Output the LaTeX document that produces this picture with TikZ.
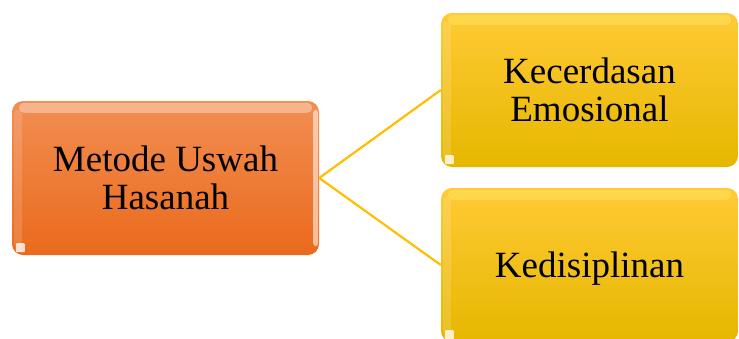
\documentclass[tikz,border=0pt]{standalone}
\usepackage{fontspec}
\setmainfont{Liberation Serif}
\usetikzlibrary{fadings}
\definecolor{orTop}{HTML}{F28E52}
\definecolor{orBot}{HTML}{EA6A1C}
\definecolor{yeTop}{HTML}{FFCA35}
\definecolor{yeBot}{HTML}{E6B700}
\definecolor{linkcol}{HTML}{FFBF00}
\definecolor{rimYellow}{HTML}{FFF27A}

\tikzset{
  box/.style={rounded corners=11pt, inner sep=0pt, align=center,
    minimum height=154pt, font=\fontsize{37}{38}\selectfont},
  orangebox/.style={box, minimum width=307pt, top color=orTop, bottom color=orBot},
  goldbox/.style={box, minimum width=297pt, top color=yeTop, bottom color=yeBot},
  linkline/.style={draw=linkcol, line width=2.2pt},
  shine/.style={fill=white, draw=none},
}

% glossy highlights on a box: top band, left band, right rim and corner spot
\newcommand{\gloss}[3]{%
  \fill[fill=#3, opacity=0.35, rounded corners=5pt]
    ([xshift=7pt,yshift=-2pt]#1.north west) rectangle ([xshift=-7pt,yshift=-12pt]#1.north east);
  \fill[shine, opacity=0.14, rounded corners=4pt]
    ([xshift=2pt,yshift=-9pt]#1.north west) rectangle ([xshift=10pt,yshift=9pt]#1.south west);
  \fill[shine, opacity=0.8, rounded corners=1pt]
    ([xshift=4pt,yshift=3pt]#1.south west) rectangle ([xshift=13pt,yshift=12pt]#1.south west);
  \ifx#2r
  \fill[shine, opacity=0.55, rounded corners=3pt]
    ([xshift=-6pt,yshift=-9pt]#1.north east) rectangle ([xshift=-1pt,yshift=9pt]#1.south east);
  \fi
}

\begin{document}
\begin{tikzpicture}[x=1pt,y=-1pt]
  \useasboundingbox (0,0) rectangle (739,338);
  \clip (0,0) rectangle (739,338);

  \node[orangebox] (metode) at (165.5,178) {Metode Uswah\\Hasanah};
  \node[goldbox] (emosi) at (589.5,90) {Kecerdasan\\Emosional};
  \node[goldbox, text depth=0pt] (disiplin) at (589.5,265) {Kedisiplinan};

  \gloss{metode}{r}{white}
  \gloss{emosi}{n}{rimYellow}
  \gloss{disiplin}{n}{rimYellow}

  \draw[linkline] (metode.east) -- (emosi.west);
  \draw[linkline] (metode.east) -- (disiplin.west);
\end{tikzpicture}
\end{document}
